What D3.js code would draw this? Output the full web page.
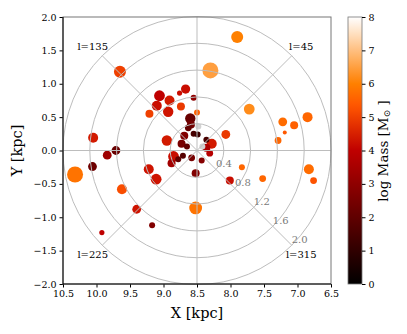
<!DOCTYPE html>
<html>
<head>
<meta charset="utf-8">
<script src="https://cdn.jsdelivr.net/npm/d3@7"></script>
<style>
body{margin:0;background:#fff}
text{font-family:"DejaVu Serif",serif}
</style>
</head>
<body>
<div id="grafica"></div>
<script>
//Datos: posicion X,Y [kpc], log Mass [Msun] y radio [pc] (null = sin masa)
var xs=[9.65,10.05,9.71,9.84,10.06,10.32,9.22,9.11,9.62,9.40,9.17,9.92,8.52,8.52,8.43,8.01,7.83,7.52,6.83,6.76,
	7.29,7.19,7.22,7.05,6.85,7.72,8.07,8.28,8.36,8.36,8.31,7.90,8.30,8.67,8.76,9.06,8.91,8.55,9.10,8.93,
	9.21,8.74,8.50,8.60,8.59,8.48,8.95,8.63,8.69,8.73,8.55,8.49,8.65,8.71,8.85,8.78,8.88,8.58,8.42]
var ys=[1.18,0.19,0.00,-0.07,-0.24,-0.36,-0.28,-0.43,-0.58,-0.88,-1.12,-1.23,-0.86,-0.34,-0.15,-0.45,-0.25,-0.42,-0.28,-0.45,
	0.15,0.27,0.43,0.38,0.50,0.62,0.24,0.10,0.16,0.04,-0.04,1.70,1.20,0.92,0.86,0.82,0.75,0.79,0.67,0.58,
	0.55,0.66,0.57,0.48,0.39,0.36,0.15,0.34,0.22,0.10,0.25,0.24,0.06,-0.08,-0.09,-0.13,-0.19,-0.11,0.06]
var masas=[5.0,4.4,2.2,3.3,2.3,5.8,4.3,4.3,5.2,4.3,2.7,4.0,5.8,2.7,2.8,4.2,5.6,5.6,5.7,5.3,
	5.6,5.4,5.7,5.5,5.6,6.2,4.9,4.4,1.5,3.6,3.8,6.0,6.5,4.2,4.2,4.0,4.4,3.0,4.2,4.3,
	5.0,4.9,5.5,2.2,2.4,null,4.4,2.1,2.7,2.5,1.5,1.2,2.0,1.8,4.2,2.0,3.4,2.5,null]
var radios=[30,25,22,22,22,40,25,27,25,22,15,13,32,20,15,20,15,17,25,17,
	17,10,22,20,25,27,22,25,15,20,17,30,40,23,13,27,25,15,25,26,
	20,20,15,26,20,15,26,17,20,20,15,15,15,15,27,15,20,17,15]

var xTicks=[10.5,10.0,9.5,9.0,8.5,8.0,7.5,7.0,6.5]
var yTicks=[-2.0,-1.5,-1.0,-0.5,0.0,0.5,1.0,1.5,2.0]
var cbTicks=[0,1,2,3,4,5,6,7,8]
var radTicks=[0.4,0.8,1.2,1.6,2.0]
var angulos=[0,45,90,135,180,225,270,315]
var longitudes=[45,135,225,315]

var svg=d3.select("#grafica").append("svg")
	.attr("width",407).attr("height",334)

//Escalas
var escalaX=d3.scaleLinear().domain([10.5,6.5]).range([63,331])
var escalaY=d3.scaleLinear().domain([-2,2]).range([284,17])
var escalaR=d3.scaleLinear().domain([0,40]).range([0,8])

//Mapa de color gist_heat
function gistHeat(v){
	var t=Math.max(0,Math.min(1,v/8))
	var r=Math.min(1,1.5*t), g=Math.max(0,2*t-1), b=Math.max(0,4*t-3)
	return d3.rgb(r*255,g*255,b*255).formatHex()
}

var datos=xs.map((d,i)=>({x:d,y:ys[i],m:masas[i],r:radios[i]}))

//Puntos
svg.append("g").selectAll("circle")
	.data(datos).enter().append("circle")
	.attr("cx",d=>escalaX(d.x))
	.attr("cy",d=>escalaY(d.y))
	.attr("r",d=>escalaR(d.r))
	.style("fill",d=>d.m==null?"#d2d2d2":gistHeat(d.m))

//Rejilla polar centrada en (8.5,0)
var cx=escalaX(8.5), cy=escalaY(0)
var px=r=>escalaX(8.5)-escalaX(8.5+r)
var rejilla=svg.append("g").attr("fill","none").attr("stroke","#bdbdbd").attr("stroke-width",1)
rejilla.selectAll("circle").data(radTicks).enter().append("circle")
	.attr("cx",cx).attr("cy",cy).attr("r",d=>px(d))
rejilla.selectAll("line").data(angulos).enter().append("line")
	.attr("x1",cx).attr("y1",cy)
	.attr("x2",d=>cx+px(2)*Math.cos(d*Math.PI/180))
	.attr("y2",d=>cy-px(2)*Math.sin(d*Math.PI/180))

svg.append("g").selectAll("text").data(radTicks).enter().append("text")
	.attr("x",d=>cx+px(d)*Math.SQRT1_2)
	.attr("y",d=>cy+px(d)*Math.SQRT1_2-2)
	.attr("font-size",10).attr("fill","#7a7a7a")
	.text(d=>d.toFixed(1))

svg.append("g").selectAll("text").data(longitudes).enter().append("text")
	.attr("x",d=>cx+px(2.2)*Math.cos(d*Math.PI/180))
	.attr("y",d=>cy-px(2.2)*Math.sin(d*Math.PI/180))
	.attr("dy","0.35em").attr("text-anchor","middle")
	.attr("font-size",10).text(d=>"l="+d)

//Ejes
var ejeX=svg.append("g").attr("transform","translate(0,284)")
	.call(d3.axisBottom(escalaX).tickValues(xTicks).tickFormat(d3.format(".1f")).tickSize(3.5).tickPadding(3))
var ejeY=svg.append("g").attr("transform","translate(63,0)")
	.call(d3.axisLeft(escalaY).tickValues(yTicks).tickFormat(d3.format(".1f")).tickSize(3.5).tickPadding(3))
;[ejeX,ejeY].forEach(e=>{
	e.select(".domain").remove()
	e.selectAll("text").attr("font-size",9.5).attr("font-family","DejaVu Serif")
})

//Marco
svg.append("rect").attr("x",63).attr("y",17).attr("width",268).attr("height",267)
	.attr("fill","none").attr("stroke","#777").attr("stroke-width",1)
svg.append("path").attr("d","M63,17V284H331").attr("fill","none").attr("stroke","#000").attr("stroke-width",1)

svg.append("text").attr("x",197).attr("y",318).attr("text-anchor","middle")
	.attr("font-size",14.5).text("X [kpc]")
svg.append("text").attr("transform","translate(22,150.5) rotate(-90)").attr("text-anchor","middle")
	.attr("font-size",14.5).text("Y [kpc]")

//Barra de color
var defs=svg.append("defs")
var grad=defs.append("linearGradient").attr("id","heat")
	.attr("x1","0%").attr("y1","100%").attr("x2","0%").attr("y2","0%")
d3.range(0,1.0001,0.025).forEach(t=>{
	grad.append("stop").attr("offset",(t*100)+"%").attr("stop-color",gistHeat(t*8))
})
var escalaC=d3.scaleLinear().domain([0,8]).range([284,17])
svg.append("rect").attr("x",348).attr("y",17).attr("width",14).attr("height",267)
	.attr("fill","url(#heat)").attr("stroke","#777").attr("stroke-width",0.8)
var ejeC=svg.append("g").attr("transform","translate(362,0)")
	.call(d3.axisRight(escalaC).tickValues(cbTicks).tickFormat(d3.format("d")).tickSize(3.5).tickPadding(3))
ejeC.select(".domain").remove()
ejeC.selectAll("text").attr("font-size",9.5).attr("font-family","DejaVu Serif")

var etiqueta=svg.append("text").attr("transform","translate(388,151) rotate(-90)")
	.attr("text-anchor","middle").attr("font-size",13.5)
etiqueta.append("tspan").text("log Mass [M")
etiqueta.append("tspan").attr("font-size",9).attr("dy","2").text("\u2299")
etiqueta.append("tspan").attr("dy","-2").text(" ]")
</script>
</body>
</html>
